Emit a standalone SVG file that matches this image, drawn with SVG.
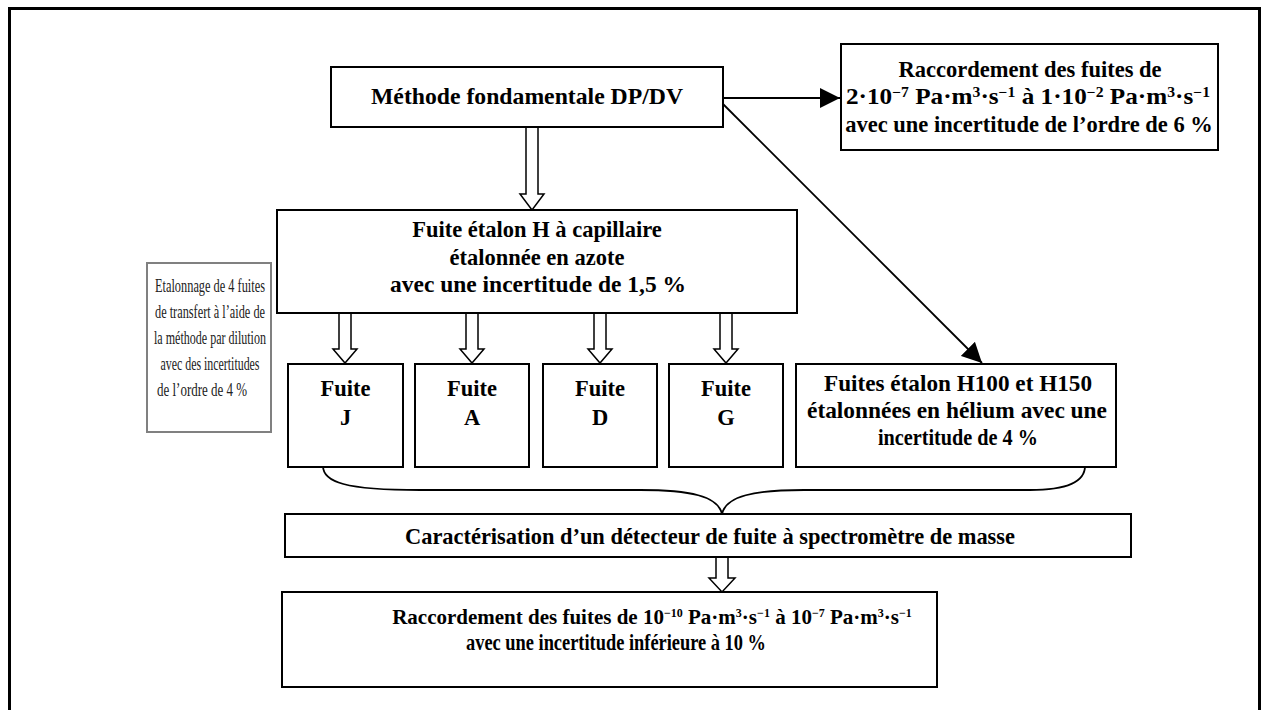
<svg xmlns="http://www.w3.org/2000/svg" width="1263" height="710" viewBox="0 0 1263 710">
<defs>
<style>
.box{fill:#fff;stroke:#000;stroke-width:2}
.gbox{fill:#fff;stroke:#808080;stroke-width:2}
.t{font-family:"Liberation Serif","Times New Roman",serif;font-weight:bold;font-size:22.5px;fill:#000;text-anchor:middle}
.b21{font-size:21px}
.n{font-family:"Liberation Serif","Times New Roman",serif;font-size:19px;fill:#222;text-anchor:middle}
.sup{font-size:14px;baseline-shift:super}
.sup2{font-size:12px;baseline-shift:super}
.hol{fill:#fff;stroke:#000;stroke-width:1.5;stroke-linejoin:miter}
.ln{fill:none;stroke:#000;stroke-width:1.8}
</style>
<marker id="ah" viewBox="0 0 20 20" refX="20" refY="10" markerWidth="20" markerHeight="20" markerUnits="userSpaceOnUse" orient="auto">
<path d="M0,0 L20,10 L0,20 Z" fill="#000"/>
</marker>
</defs>
<rect x="0" y="0" width="1263" height="710" fill="#fff"/>
<rect x="9.5" y="8.5" width="1250" height="730" fill="none" stroke="#000" stroke-width="3"/>

<g id="connectors">
<line class="ln" x1="723" y1="98" x2="840" y2="98" marker-end="url(#ah)"/>
<line class="ln" x1="721" y1="102" x2="982" y2="363" marker-end="url(#ah)"/>
<path class="hol" d="M526,127 L538,127 L538,194 L544,194 L532,210 L520,194 L526,194 Z"/>
<path class="hol" d="M339,313 L351,313 L351,349 L357,349 L345,363 L333,349 L339,349 Z"/>
<path class="hol" d="M466,313 L478,313 L478,349 L484,349 L472,363 L460,349 L466,349 Z"/>
<path class="hol" d="M594,313 L606,313 L606,349 L612,349 L600,363 L588,349 L594,349 Z"/>
<path class="hol" d="M720,313 L732,313 L732,349 L738,349 L726,363 L714,349 L720,349 Z"/>
<path class="ln" d="M323,466 C323,482 345,490 420,490 L640,490 C690,490 718,496 722,514 C726,496 754,490 804,490 L1030,490 C1070,490 1085,480 1085,466"/>
<path class="hol" d="M716,557 L728,557 L728,578 L735,578 L722,592 L709,578 L716,578 Z"/>
</g>

<g id="methode">
<rect class="box" x="331" y="67" width="392" height="60"/>
<text class="t" x="527" y="104" textLength="312" lengthAdjust="spacingAndGlyphs">Méthode fondamentale DP/DV</text>
</g>

<g id="raccordement-haut">
<rect class="box" x="841" y="44" width="377" height="106"/>
<text class="t" x="1030" y="77">Raccordement des fuites de</text>
<text class="t" x="1028" y="104" textLength="364" lengthAdjust="spacingAndGlyphs">2·10<tspan class="sup">−7</tspan> Pa·m<tspan class="sup">3</tspan>·s<tspan class="sup">−1</tspan> à 1·10<tspan class="sup">−2</tspan> Pa·m<tspan class="sup">3</tspan>·s<tspan class="sup">−1</tspan></text>
<text class="t" x="1029" y="132">avec une incertitude de l’ordre de 6 %</text>
</g>

<g id="fuite-h">
<rect class="box" x="277" y="210" width="520" height="103"/>
<text class="t" x="537" y="237">Fuite étalon H à capillaire</text>
<text class="t" x="537" y="265">étalonnée en azote</text>
<text class="t" x="538" y="292" textLength="296" lengthAdjust="spacingAndGlyphs">avec une incertitude de 1,5 %</text>
</g>

<g id="note-dilution">
<rect class="gbox" x="147" y="263" width="124" height="169"/>
<text class="n" x="210" y="292" textLength="110" lengthAdjust="spacingAndGlyphs">Etalonnage de 4 fuites</text>
<text class="n" x="210" y="318" textLength="110" lengthAdjust="spacingAndGlyphs">de transfert à l’aide de</text>
<text class="n" x="210" y="344" textLength="112" lengthAdjust="spacingAndGlyphs">la méthode par dilution</text>
<text class="n" x="210" y="370" textLength="99" lengthAdjust="spacingAndGlyphs">avec des incertitudes</text>
<text class="n" x="202" y="396" textLength="90" lengthAdjust="spacingAndGlyphs">de l’ordre de 4 %</text>
</g>

<g id="fuite-j">
<rect class="box" x="288" y="364" width="115" height="103"/>
<text class="t" x="345.5" y="396">Fuite</text>
<text class="t" x="345.5" y="425">J</text>
</g>
<g id="fuite-a">
<rect class="box" x="415" y="364" width="114" height="103"/>
<text class="t" x="472" y="396">Fuite</text>
<text class="t" x="472" y="425">A</text>
</g>
<g id="fuite-d">
<rect class="box" x="543" y="364" width="114" height="103"/>
<text class="t" x="600" y="396">Fuite</text>
<text class="t" x="600" y="425">D</text>
</g>
<g id="fuite-g">
<rect class="box" x="669" y="364" width="114" height="103"/>
<text class="t" x="726" y="396">Fuite</text>
<text class="t" x="726" y="425">G</text>
</g>

<g id="fuites-h100-h150">
<rect class="box" x="796" y="364" width="320" height="103"/>
<text class="t" x="958" y="391" textLength="268" lengthAdjust="spacingAndGlyphs">Fuites étalon H100 et H150</text>
<text class="t" x="957" y="418" textLength="300" lengthAdjust="spacingAndGlyphs">étalonnées en hélium avec une</text>
<text class="t" x="958" y="445" textLength="160" lengthAdjust="spacingAndGlyphs">incertitude de 4 %</text>
</g>

<g id="caracterisation">
<rect class="box" x="285" y="514" width="846" height="43"/>
<text class="t" x="710" y="544" textLength="610" lengthAdjust="spacingAndGlyphs">Caractérisation d’un détecteur de fuite à spectromètre de masse</text>
</g>

<g id="raccordement-bas">
<rect class="box" x="282" y="592" width="655" height="95"/>
<text class="t b21" x="652" y="624">Raccordement des fuites de 10<tspan class="sup2">−10</tspan> Pa·m<tspan class="sup2">3</tspan>·s<tspan class="sup2">−1</tspan> à 10<tspan class="sup2">−7</tspan> Pa·m<tspan class="sup2">3</tspan>·s<tspan class="sup2">−1</tspan></text>
<text class="t" x="616" y="650" textLength="300" lengthAdjust="spacingAndGlyphs">avec une incertitude inférieure à 10 %</text>
</g>
</svg>
